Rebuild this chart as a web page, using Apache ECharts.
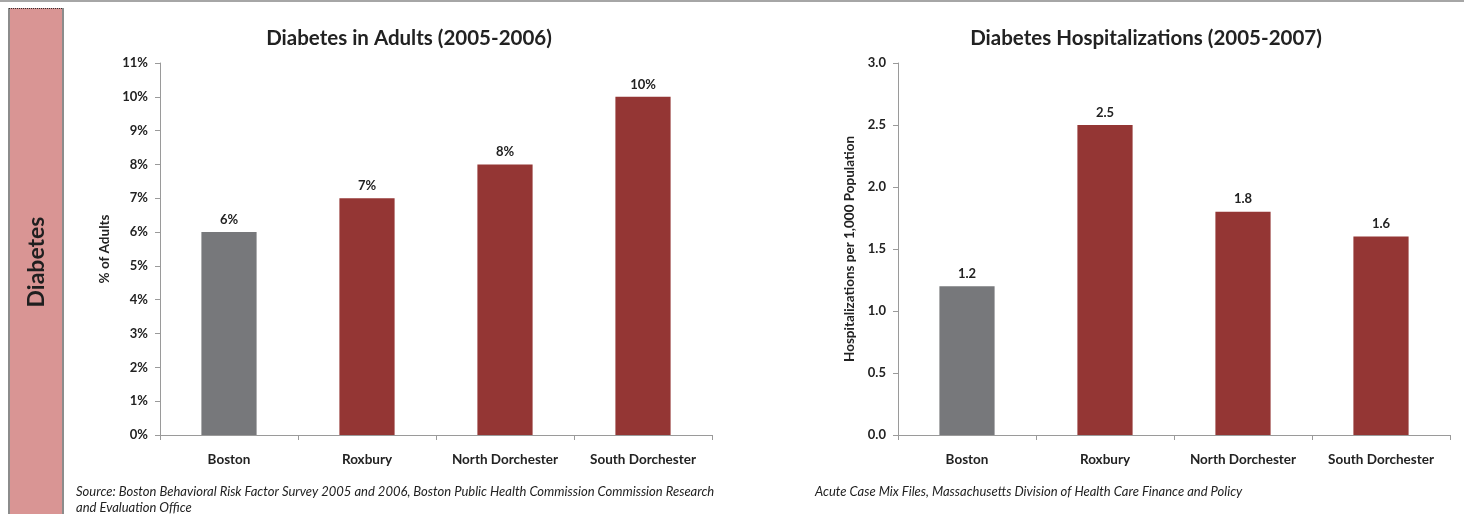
<!DOCTYPE html>
<html>
<head>
<meta charset="utf-8">
<script src="https://cdn.jsdelivr.net/npm/echarts@6/dist/echarts.min.js"></script>
<style>
  html, body { margin: 0; padding: 0; background: #fff; }
  #chart { width: 1464px; height: 514px; }
</style>
</head>
<body>
<div id="chart"></div>
<script>
// Neighborhoods compared in both panels
const categories = ['Boston', 'Roxbury', 'North Dorchester', 'South Dorchester'];

// Left panel: share of adults with diabetes (%)
const adultsPct = [6, 7, 8, 10];
const adultsTicks = { min: 0, max: 11, interval: 1 };

// Right panel: hospitalizations per 1,000 population
const hospRate = [1.2, 2.5, 1.8, 1.6];
const hospTicks = { min: 0, max: 3, interval: 0.5 };

const FONT = 'Lato, "Open Sans", sans-serif';
const GRAY = '#77787B';
const RED = '#943634';
const AXIS = '#9A9A9A';
const TEXT = '#222222';

function barData(values) {
  return values.map((v, i) => ({
    value: v,
    itemStyle: { color: i === 0 ? GRAY : RED }
  }));
}

function xAxisFor(gridIndex) {
  return {
    type: 'category',
    gridIndex,
    data: categories,
    axisLine: { lineStyle: { color: AXIS, width: 1 } },
    axisTick: { show: true, length: 5, lineStyle: { color: AXIS } },
    axisLabel: { color: TEXT, fontFamily: FONT, fontWeight: 'bold', fontSize: 13.5, margin: 18 }
  };
}

function yAxisFor(gridIndex, ticks, name, fmt) {
  return {
    type: 'value',
    gridIndex,
    min: ticks.min, max: ticks.max, interval: ticks.interval,
    name,
    nameLocation: 'middle',
    nameRotate: 90,
    nameGap: gridIndex === 0 ? 48 : 41,
    nameTextStyle: { color: TEXT, fontFamily: FONT, fontWeight: 'bold', fontSize: 13.5 },
    axisLine: { show: true, lineStyle: { color: AXIS, width: 1 } },
    axisTick: { show: true, length: 5, inside: false, lineStyle: { color: AXIS } },
    splitLine: { show: false },
    axisLabel: { color: TEXT, fontFamily: FONT, fontWeight: 'bold', fontSize: 13, margin: 12, formatter: fmt }
  };
}

const chart = echarts.init(document.getElementById('chart'), null, { renderer: 'canvas' });

chart.setOption({
  backgroundColor: '#ffffff',
  animation: false,
  title: [
    {
      text: 'Diabetes in Adults (2005-2006)',
      left: 404, top: 23, textAlign: 'center',
      textStyle: { color: TEXT, fontFamily: FONT, fontWeight: 'bold', fontSize: 20.5 }
    },
    {
      text: 'Diabetes Hospitalizations (2005-2007)',
      left: 1141, top: 23, textAlign: 'center',
      textStyle: { color: TEXT, fontFamily: FONT, fontWeight: 'bold', fontSize: 20.5 }
    }
  ],
  grid: [
    { left: 160, top: 63, width: 552, height: 372 },
    { left: 898, top: 63, width: 552, height: 372 }
  ],
  xAxis: [xAxisFor(0), xAxisFor(1)],
  yAxis: [
    yAxisFor(0, adultsTicks, '% of Adults', v => v + '%'),
    yAxisFor(1, hospTicks, 'Hospitalizations per 1,000 Population', v => v.toFixed(1))
  ],
  series: [
    {
      type: 'bar', xAxisIndex: 0, yAxisIndex: 0,
      data: barData(adultsPct),
      barWidth: '40%',
      label: {
        show: true, position: 'top', distance: 6,
        color: TEXT, fontFamily: FONT, fontWeight: 'bold', fontSize: 13,
        formatter: p => p.value + '%'
      }
    },
    {
      type: 'bar', xAxisIndex: 1, yAxisIndex: 1,
      data: barData(hospRate),
      barWidth: '40%',
      label: {
        show: true, position: 'top', distance: 6,
        color: TEXT, fontFamily: FONT, fontWeight: 'bold', fontSize: 13,
        formatter: p => p.value.toFixed(1)
      }
    }
  ],
  graphic: [
    // thin rule across the top of the page
    { type: 'rect', shape: { x: 0, y: 0, width: 1464, height: 2 }, style: { fill: '#A6A6A6' }, silent: true },
    // section band on the left
    { type: 'rect', shape: { x: 8, y: 8, width: 56, height: 506 }, style: { fill: '#D99594' }, silent: true },
    { type: 'rect', shape: { x: 8, y: 8, width: 2, height: 506 }, style: { fill: '#8C8C8C' }, silent: true },
    { type: 'rect', shape: { x: 62, y: 8, width: 2, height: 506 }, style: { fill: '#8C8C8C' }, silent: true },
    { type: 'line', shape: { x1: 9, y1: 8.5, x2: 63, y2: 8.5 }, style: { stroke: '#333', lineWidth: 1, lineDash: [1, 1] }, silent: true },
    {
      type: 'text', x: 37, y: 262, rotation: Math.PI / 2,
      style: {
        text: 'Diabetes', fill: '#1f1f1f', fontFamily: FONT, fontWeight: 'bold', fontSize: 23,
        align: 'center', verticalAlign: 'middle'
      },
      silent: true
    },
    // sources
    {
      type: 'text', left: 76, top: 484,
      style: {
        text: 'Source: Boston Behavioral Risk Factor Survey 2005 and 2006, Boston Public Health Commission Commission Research\nand Evaluation Office',
        fill: '#222', fontFamily: FONT, fontStyle: 'italic', fontSize: 13, lineHeight: 16
      },
      silent: true
    },
    {
      type: 'text', left: 815, top: 484,
      style: {
        text: 'Acute Case Mix Files, Massachusetts Division of Health Care Finance and Policy',
        fill: '#222', fontFamily: FONT, fontStyle: 'italic', fontSize: 13, lineHeight: 16
      },
      silent: true
    }
  ]
});
</script>
</body>
</html>
